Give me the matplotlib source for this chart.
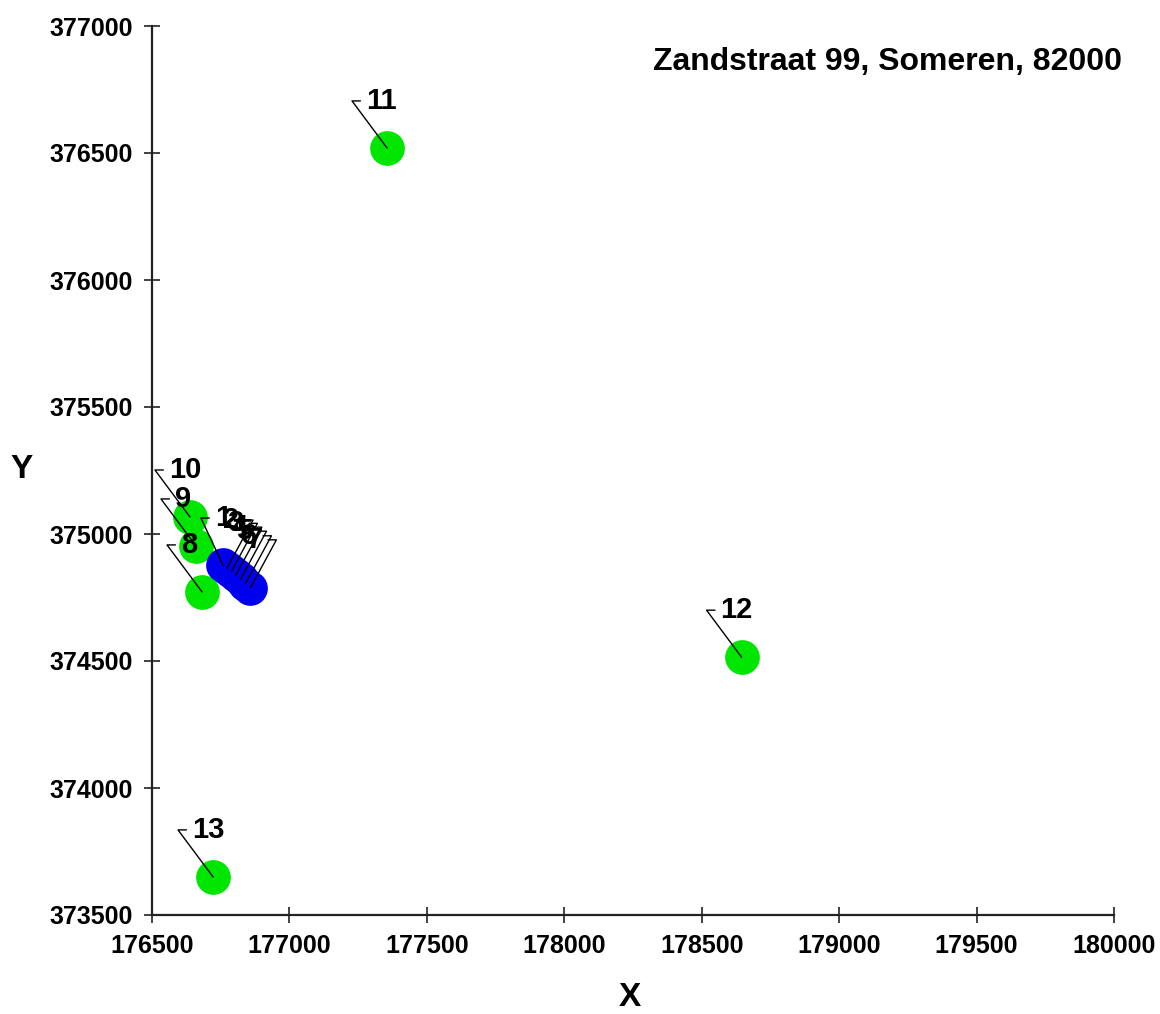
import matplotlib.pyplot as plt
import numpy as np

plt.rcParams['font.family'] = ['Liberation Sans', 'DejaVu Sans']
plt.rcParams['font.weight'] = 'bold'

TITLE = "Zandstraat 99, Someren, 82000"

# blue points (1-7) and green points (8-13), RD coordinates
blue_ids = [1, 2, 3, 4, 5, 6, 7]
blue_x = [176758, 176773, 176789, 176805, 176822, 176840, 176858]
blue_y = [374878, 374866, 374853, 374838, 374822, 374804, 374788]

green_ids = [8, 9, 10, 11, 12, 13]
green_x = [176682, 176660, 176638, 177355, 178645, 176722]
green_y = [374772, 374953, 375067, 376520, 374515, 373650]

XTICKS = [176500, 177000, 177500, 178000, 178500, 179000, 179500, 180000]
YTICKS = [373500, 374000, 374500, 375000, 375500, 376000, 376500, 377000]

# leader corner offset (pixels from point) and which side the text sits
LEADER = {i: (-35, 47, "left") for i in green_ids}
LEADER[1] = (-22, 47, "left")
for i in blue_ids[1:]:
    LEADER[i] = (26, 48, "right")

fig = plt.figure(figsize=(11.6, 10.14), dpi=100)
ax = fig.add_axes([152 / 1160, 1 - 915 / 1014, 962 / 1160, 889 / 1014])
ax.set_xlim(XTICKS[0], XTICKS[-1])
ax.set_ylim(YTICKS[0], YTICKS[-1])

ax.plot(green_x, green_y, "o", ms=25, color="#00e600", mec="none", ls="none", zorder=2)
ax.plot(blue_x, blue_y, "o", ms=25, color="#0000ee", mec="none", ls="none", zorder=3)


def leader_label(x, y, txt):
    dx, dy, side = LEADER[int(txt)]
    ang = np.degrees(np.arctan2(dy, dx))
    if side == "left":
        off, ha, rel = dx + 14, "left", (0, 0.5)
    else:
        off, ha, rel = dx - 14, "right", (1, 0.5)
    ax.annotate(txt, xy=(x, y), xytext=(off, dy), textcoords="offset pixels",
                ha=ha, va="center", fontsize=21, fontweight="bold", zorder=5,
                arrowprops=dict(arrowstyle="-", lw=1, color="black",
                                connectionstyle=f"angle,angleA=0,angleB={ang},rad=0",
                                shrinkA=2, shrinkB=0, relpos=rel))


for i, x, y in zip(green_ids, green_x, green_y):
    leader_label(x, y, str(i))
for i, x, y in zip(blue_ids, blue_x, blue_y):
    leader_label(x, y, str(i))

for s in ["top", "right"]:
    ax.spines[s].set_visible(False)
for s in ["left", "bottom"]:
    ax.spines[s].set_linewidth(1.6)
    ax.spines[s].set_color("#222222")

ax.set_xticks(XTICKS)
ax.set_yticks(YTICKS)
ax.set_xticklabels([str(v) for v in XTICKS])
ax.set_yticklabels([str(v) for v in YTICKS])
ax.tick_params(direction="inout", length=11, width=1.2, color="#222222",
               labelsize=18, pad=8)

ax.set_xlabel("X", fontsize=24, fontweight="bold")
ax.set_ylabel("Y", fontsize=24, fontweight="bold", rotation=0, va="center", ha="center")
ax.xaxis.set_label_coords(0.497, -(998 - 915) / 889)
ax.yaxis.set_label_coords(-(152 - 22) / 962, (915 - 470) / 889)
ax.xaxis.label.set_va("center")

fig.text(1122 / 1160, 1 - 62 / 1014, TITLE, ha="right", va="center",
         fontsize=23, fontweight="bold")

fig.savefig("out.png", dpi=100)
